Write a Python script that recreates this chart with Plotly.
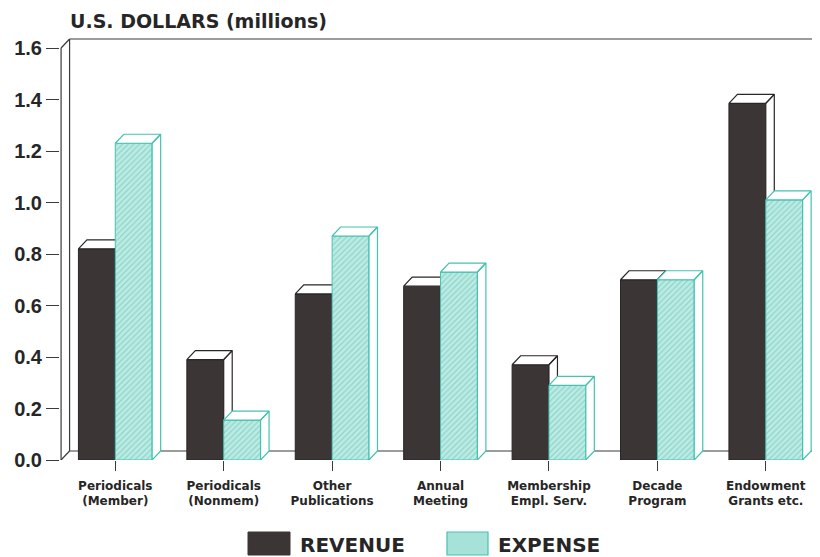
import plotly.graph_objects as go

# ---------------- data ----------------
categories = ["Periodicals<br>(Member)", "Periodicals<br>(Nonmem)", "Other<br>Publications",
              "Annual<br>Meeting", "Membership<br>Empl. Serv.", "Decade<br>Program",
              "Endowment<br>Grants etc."]
revenue = [0.82, 0.39, 0.645, 0.675, 0.37, 0.70, 1.385]
expense = [1.23, 0.155, 0.87, 0.73, 0.29, 0.70, 1.01]
y_ticks = [0.0, 0.2, 0.4, 0.6, 0.8, 1.0, 1.2, 1.4, 1.6]
series_names = ["REVENUE", "EXPENSE"]

# ---------------- style ----------------
OFF = 8                      # page body margin of the html page
WIN_W, WIN_H = 820, 557
W, H = WIN_W - OFF, WIN_H - OFF
# plot area in window pixels: left 60, right 820, top 37, bottom 460
PL, PR, PT, PB = 60, 820, 37, 460
ML, MR, MT, MB = PL - OFF, WIN_W - PR, PT - OFF, WIN_H - PB
XR = [-0.51, 6.5]
PXU_Y = 257.5
YTOP = (PB - PT) / PXU_Y
BW = 0.34            # bar width (category units)
DX = 8.5 / ((PR - PL) / (XR[1] - XR[0]))   # depth offset in x units
DY = 9 / PXU_Y                              # depth offset in y units
REV_COL = "#3b3535"
REV_LINE = "#2a2626"
EXP_COL = "#bfeae3"
EXP_FG = "#4fc4b4"
EXP_LINE = "#45c2b1"
TXT = "#262626"
FONT_B = "DejaVu Sans"
FONT_T = "Liberation Sans"

def px_x(px):
    return (px - PL) / (PR - PL)

def px_y(py):
    return (PB - py) / (PB - PT)

xs = list(range(len(categories)))

fig = go.Figure()

def faces(vals, offset):
    """Top and right faces of the pseudo-3D bars (polygons separated by None)."""
    fx, fy = [], []
    for i, v in enumerate(vals):
        xl = i + offset
        xr = xl + BW
        fx += [xl, xr, xr + DX, xl + DX, xl, None]
        fy += [v, v, v + DY, v + DY, v, None]
        fx += [xr, xr + DX, xr + DX, xr, xr, None]
        fy += [0, DY, v + DY, v, 0, None]
    return fx, fy

fig.add_trace(go.Bar(x=xs, y=revenue, width=BW, offset=-BW, name=series_names[0],
                     marker=dict(color=REV_COL, line=dict(color=REV_LINE, width=1)),
                     showlegend=False, zorder=0))
rx, ry = faces(revenue, -BW)
fig.add_trace(go.Scatter(x=rx, y=ry, mode="lines", fill="toself", fillcolor="white",
                         line=dict(color=REV_LINE, width=1.2), showlegend=False,
                         hoverinfo="skip", zorder=1))
fig.add_trace(go.Bar(x=xs, y=expense, width=BW, offset=0, name=series_names[1],
                     marker=dict(color=EXP_COL, line=dict(color=EXP_LINE, width=1),
                                 pattern=dict(shape="/", fgcolor=EXP_FG, size=4, solidity=0.3)),
                     showlegend=False, zorder=2))
ex, ey = faces(expense, 0)
fig.add_trace(go.Scatter(x=ex, y=ey, mode="lines", fill="toself", fillcolor="white",
                         line=dict(color=EXP_LINE, width=1.2), showlegend=False,
                         hoverinfo="skip", zorder=3))

# ---------------- 3D frame (back wall / floor) ----------------
x0 = -0.5
ymax = y_ticks[-1]
frame_lines = [
    (x0, 0, x0, ymax),
    (x0, 0, x0 + DX, DY),
    (x0, ymax, x0 + DX, ymax + DY),
    (x0 + DX, DY, x0 + DX, ymax + DY),
    (x0 + DX, ymax + DY, XR[1] + 1, ymax + DY),
    (x0 + DX, DY, XR[1] + 1, DY),
]
shapes = []
for (a, b, c, d) in frame_lines:
    shapes.append(dict(type="line", xref="x", yref="y", x0=a, y0=b, x1=c, y1=d,
                       line=dict(color="#3a3a3a", width=1.2), layer="below"))

# ---------------- custom legend ----------------
shapes.append(dict(type="rect", xref="paper", yref="paper",
                   x0=px_x(248), x1=px_x(290), y0=px_y(555), y1=px_y(532),
                   fillcolor=REV_COL, line=dict(color=REV_COL, width=1)))
shapes.append(dict(type="rect", xref="paper", yref="paper",
                   x0=px_x(447), x1=px_x(488), y0=px_y(555), y1=px_y(532),
                   fillcolor="#a6e2d8", line=dict(color=EXP_LINE, width=1.2)))

annotations = [
    dict(text="U.S. DOLLARS (millions)", xref="paper", yref="paper",
         x=px_x(68), y=px_y(21), xanchor="left", yanchor="middle", showarrow=False,
         font=dict(family=FONT_B, size=19, color=TXT, weight="bold")),
    dict(text=series_names[0], xref="paper", yref="paper", x=px_x(298), y=px_y(545),
         xanchor="left", yanchor="middle", showarrow=False,
         font=dict(family=FONT_B, size=20, color=TXT, weight="bold")),
    dict(text=series_names[1], xref="paper", yref="paper", x=px_x(496), y=px_y(545),
         xanchor="left", yanchor="middle", showarrow=False,
         font=dict(family=FONT_B, size=20, color=TXT, weight="bold")),
]

fig.update_layout(
    width=W, height=H,
    margin=dict(l=ML, r=MR, t=MT, b=MB, pad=0),
    paper_bgcolor="white", plot_bgcolor="white",
    barmode="overlay",
    shapes=shapes, annotations=annotations,
    xaxis=dict(range=XR, tickvals=xs, ticktext=categories, showgrid=False, zeroline=False,
               showline=True, linecolor="#3a3a3a", linewidth=1.2,
               ticks="outside", ticklen=10, tickcolor="#3a3a3a", tickwidth=1.2,
               ticklabelstandoff=4,
               tickfont=dict(family=FONT_B, size=12, color=TXT, weight="bold")),
    yaxis=dict(range=[0, YTOP], tickvals=y_ticks, ticktext=[f"{v:.1f}" for v in y_ticks],
               showgrid=False, zeroline=False, showline=False,
               ticks="outside", ticklen=13, tickcolor="#3a3a3a", tickwidth=1.2,
               tickfont=dict(family=FONT_T, size=20, color=TXT, weight="bold")),
    showlegend=False,
)

fig.write_html("out.html")
